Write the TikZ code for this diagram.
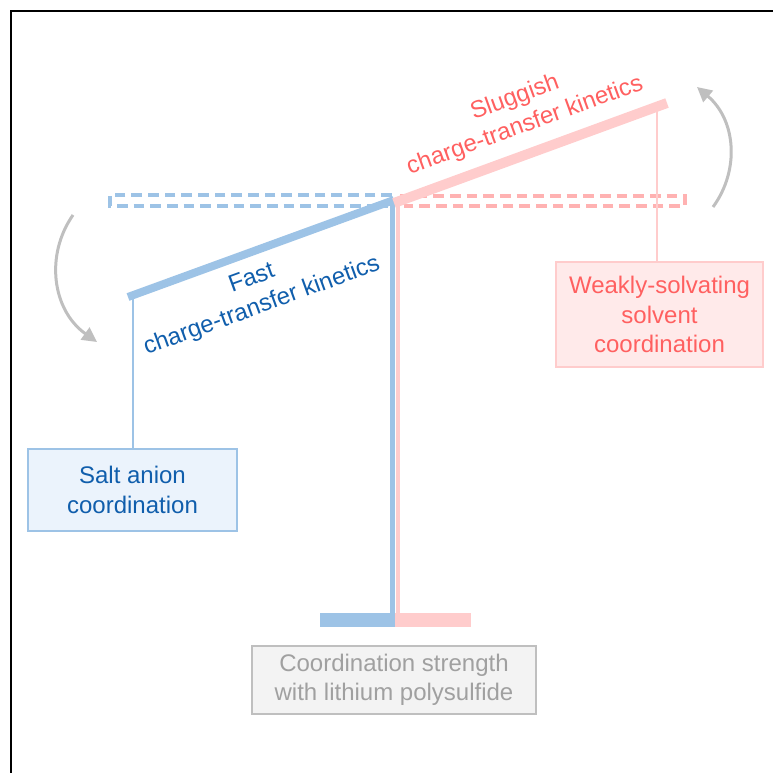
\documentclass[tikz,border=0pt]{standalone}
\usepackage{fontspec}
\setmainfont{Liberation Sans}
\usetikzlibrary{arrows.meta}

\definecolor{beamblue}{RGB}{157,195,230}
\definecolor{beampink}{RGB}{255,204,204}
\definecolor{dashpink}{RGB}{255,178,178}
\definecolor{textblue}{RGB}{16,94,172}
\definecolor{textred}{RGB}{255,96,96}
\definecolor{boxblue}{RGB}{235,243,252}
\definecolor{boxpink}{RGB}{255,234,234}
\definecolor{boxgray}{RGB}{243,243,243}
\definecolor{edgegray}{RGB}{191,191,191}
\definecolor{textgray}{RGB}{160,160,160}

\begin{document}
\begin{tikzpicture}[x=0.75pt,y=0.75pt,yscale=-1,xscale=1,
  lbl/.style={font=\fontsize{18}{22}\selectfont,align=center,inner sep=0.75pt},
  box/.style={lbl,draw,line width=2pt,inner sep=0pt},
  hang/.style={line width=1.5pt},
  ghost/.style={line width=2.5pt,dash pattern=on 8pt off 4.5pt},
  swing/.style={draw=edgegray,line width=2.25pt,-{Triangle[length=11pt,width=11pt]}}]

\useasboundingbox (0,0) rectangle (773,773);

%Frame
\draw [line width=1.5]    (10.5,773) -- (10.5,11.5) -- (773,11.5) ;

%Coordinates
\coordinate (pivot) at (394,200);
\coordinate (blueEnd) at (128,297);
\coordinate (pinkEnd) at (667,103);
\coordinate (blueHang) at (133,297);
\coordinate (pinkHang) at (657,106);

%Dashed Lines (level position)
\draw [beamblue,ghost]    (392,195) -- (110,195) -- (110,206) -- (388,206) ;
\draw [dashpink,ghost]    (400,196) -- (685,196) -- (685,206) -- (404,206) ;

%Boxes
\node (saltBox) [box,draw=beamblue,fill=boxblue,text=textblue,minimum width=156.75pt,minimum height=61.5pt] at (132.5,490) {Salt anion\\coordination};
\node (solvBox) [box,draw=beampink,fill=boxpink,text=textred,minimum width=155.25pt,minimum height=78.75pt] at (659.5,314.5) {Weakly-solvating\\solvent\\coordination};
\node (coordBox) [box,draw=edgegray,fill=boxgray,text=textgray,minimum width=213pt,minimum height=51pt] at (394,680) {Coordination strength\\with lithium polysulfide};

%Hanging Lines
\draw [beamblue,hang]    (blueHang) -- (blueHang |- saltBox.north) ;
\draw [beampink,hang]    (pinkHang) -- (pinkHang |- solvBox.north) ;

%Beams
\draw [beamblue,line width=6pt]    (pivot) -- (blueEnd) ;
\draw [beamblue,line width=3.75pt]    (392.5,198) -- (392.5,614) ;
\draw [beampink,line width=3pt]    (398,203) -- (398,614) ;
\draw [beampink,line width=7.5pt]    (394,203) -- (pinkEnd) ;

%Base
\draw [beamblue,line width=10.5pt]    (320,620) -- (395,620) ;
\draw [beampink,line width=10.5pt]    (395,620) -- (471,620) ;

%Curve Lines
\draw [swing]    (73,215) .. controls (45,255) and (52,310) .. (97,342) ;
\draw [swing]    (713,207) .. controls (740,170) and (736,120) .. (697,87) ;

% Text Node
\node (fastLbl) [lbl,text=textblue,rotate=20] at (257,293) {Fast\\charge-transfer kinetics};
% Text Node
\node (slowLbl) [lbl,text=textred,rotate=20] at (520,112) {Sluggish\\charge-transfer kinetics};

\end{tikzpicture}
\end{document}
